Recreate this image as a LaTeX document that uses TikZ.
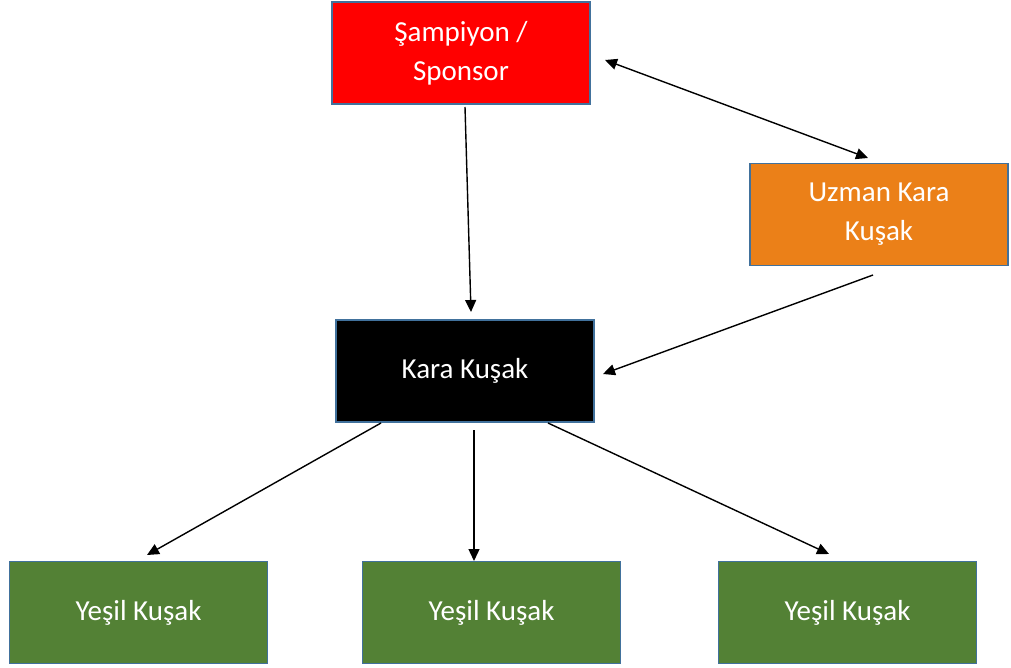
\documentclass[tikz,border=0pt]{standalone}
\usepackage{fontspec}
\setmainfont{Carlito}
\usetikzlibrary{arrows.meta}
\definecolor{bordc}{HTML}{41719C}
\definecolor{redc}{HTML}{FF0000}
\definecolor{orangec}{HTML}{EB8018}
\definecolor{greenc}{HTML}{538135}
\tikzset{
  box/.style={draw=bordc, line width=1.2pt, minimum width=258pt, minimum height=102pt, inner sep=0pt, text=white, font=\fontsize{29}{39}\selectfont, align=center},
  conn/.style={line width=1.4pt, -{Triangle[length=12pt,width=11pt]}},
  dconn/.style={line width=1.4pt, {Triangle[length=12pt,width=11pt]}-{Triangle[length=12pt,width=11pt]}}
}
\begin{document}
\begin{tikzpicture}[x=1pt,y=-1pt]
\useasboundingbox (0,0) rectangle (1011,668);
\node[box, fill=redc] (champ) at (461,53) {Şampiyon /\\Sponsor};
\node[box, fill=orangec] (uzman) at (879,214.5) {Uzman Kara\\Kuşak};
\node[box, fill=black] (kara) at (465,371) {Kara Kuşak};
\node[box, fill=greenc] (g1) at (138.5,612.5) {Yeşil Kuşak};
\node[box, fill=greenc] (g2) at (491.5,612.5) {Yeşil Kuşak};
\node[box, fill=greenc] (g3) at (847.5,612.5) {Yeşil Kuşak};
% connector end points
\coordinate (c1s) at (465,107);
\coordinate (c1e) at (471,312);
\coordinate (d1) at (605,60);
\coordinate (d2) at (868,158);
\coordinate (o1) at (873,275);
\coordinate (o2) at (603,374);
\coordinate (k1) at (381,423);
\coordinate (k1e) at (147,555);
\coordinate (k2) at (474,430);
\coordinate (k2e) at (474,561);
\coordinate (k3) at (548,423);
\coordinate (k3e) at (829,554);
\draw[conn] (c1s) -- (c1e);
\draw[dconn] (d1) -- (d2);
\draw[conn] (o1) -- (o2);
\draw[conn] (k1) -- (k1e);
\draw[conn] (k2) -- (k2e);
\draw[conn] (k3) -- (k3e);
\end{tikzpicture}
\end{document}
